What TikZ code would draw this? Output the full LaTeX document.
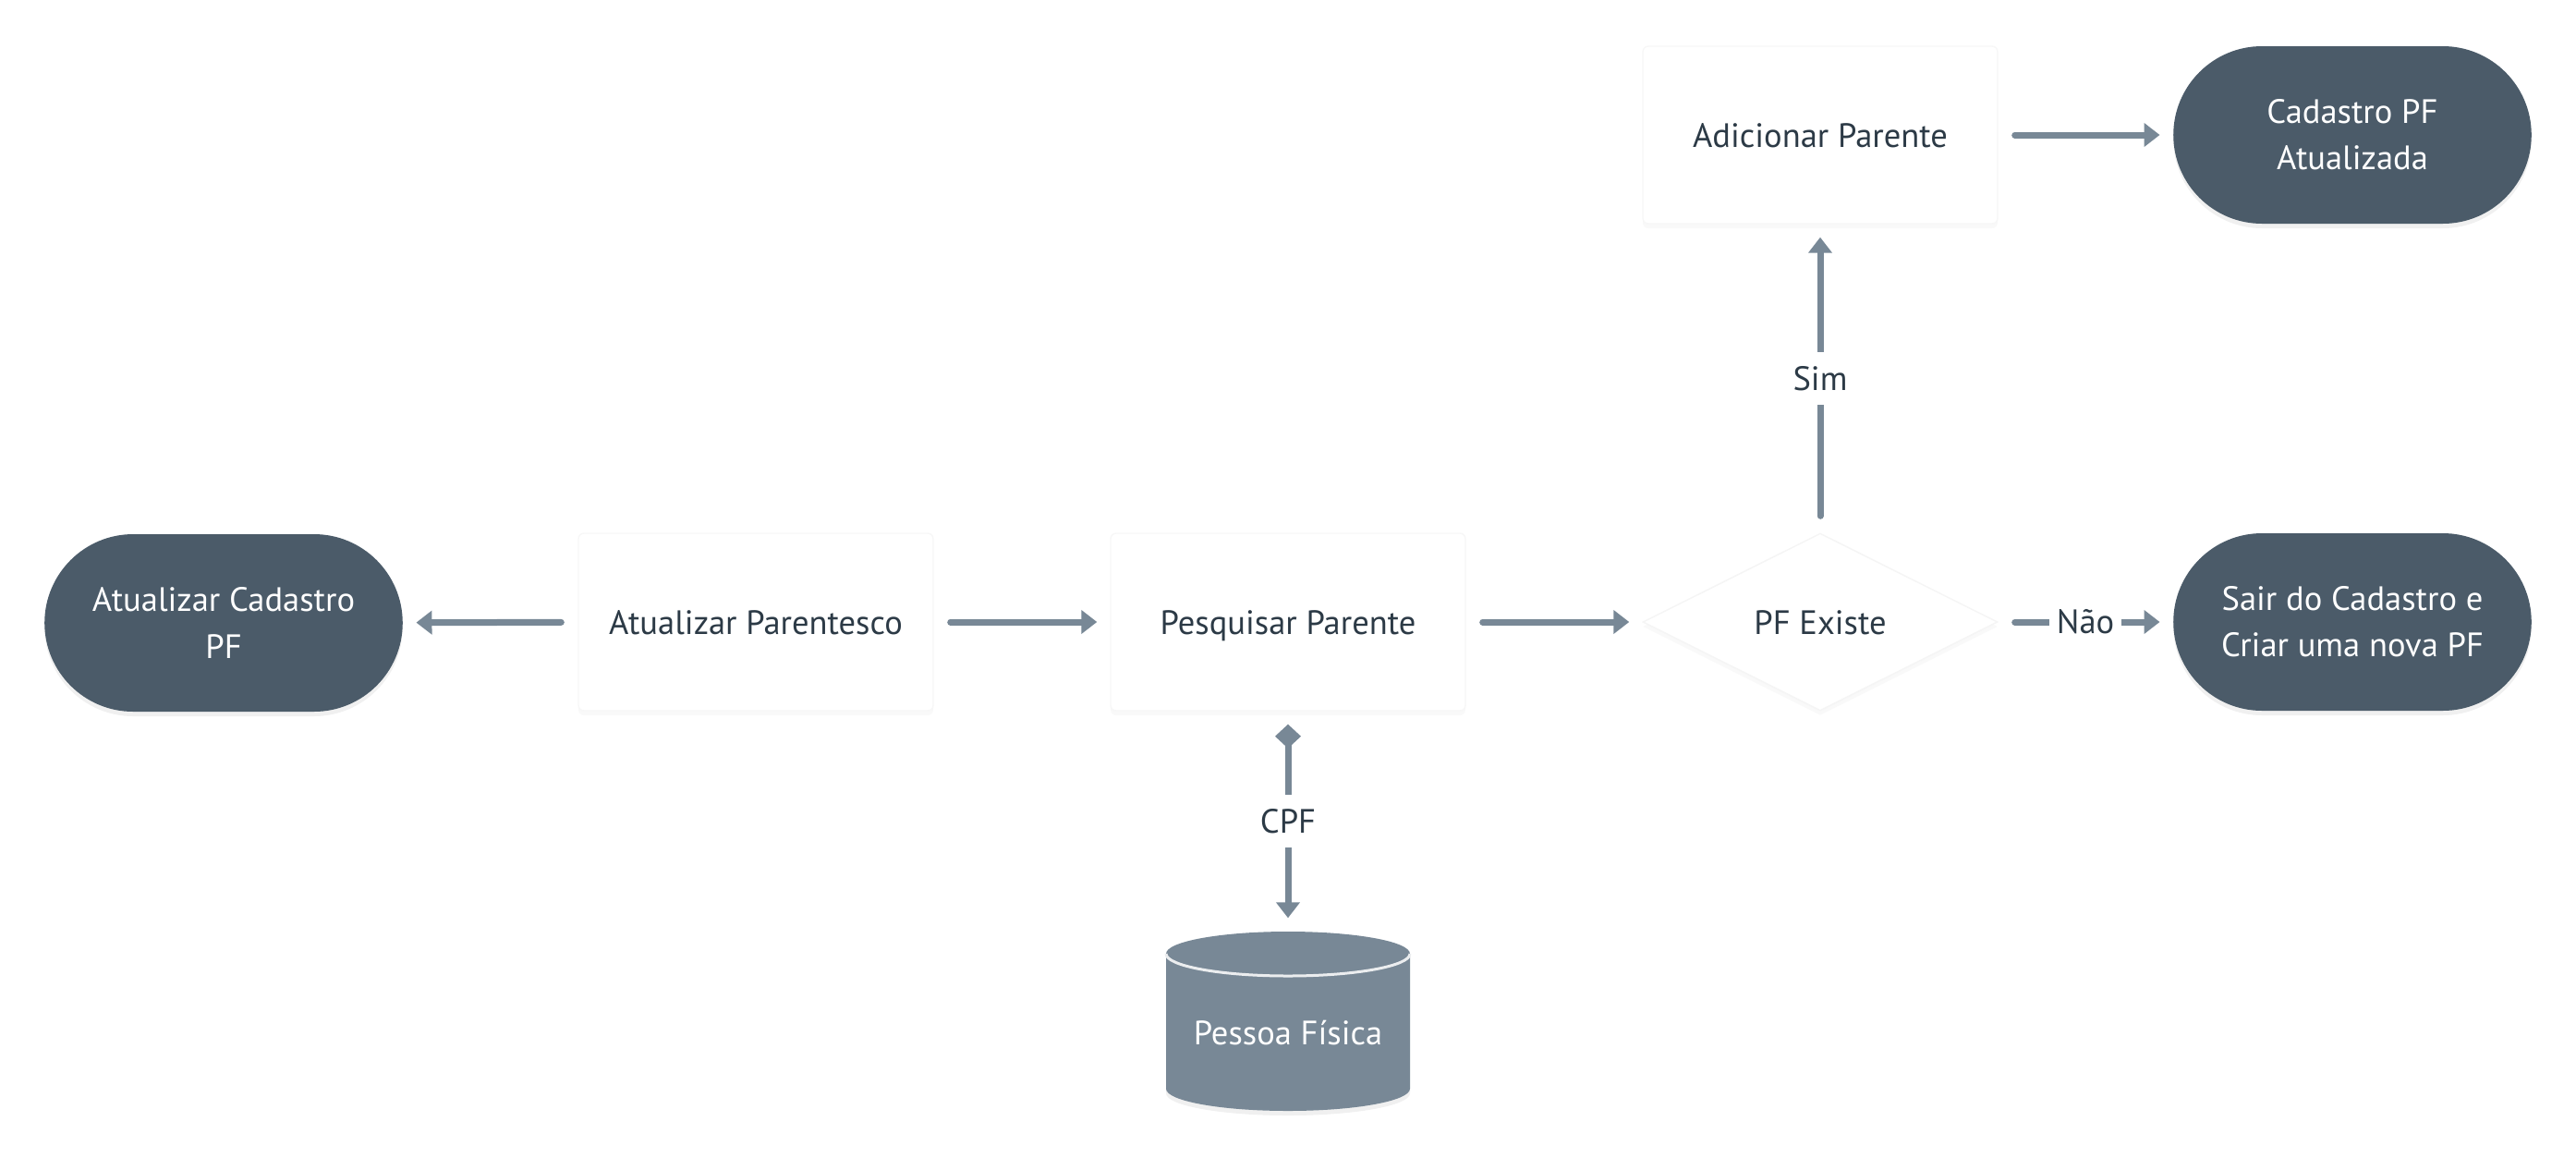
\documentclass[tikz,border=0pt]{standalone}
\usepackage{fontspec}
\setmainfont{PT Sans}
\usepackage{tikz}
\usepackage{xcolor}
\usetikzlibrary{positioning,arrows.meta,calc,shapes.misc,shapes.geometric,shadows}
\definecolor{mydark}{RGB}{75,91,105}
\definecolor{mygray}{RGB}{120,136,150}
\definecolor{mytext}{RGB}{44,58,70}
\tikzset{
    term/.style={
        rounded rectangle,
        fill=mydark,
        draw=none,
        minimum width=4.11cm,
        minimum height=1.92cm,
        text=white,
        align=center,
        font=\fontsize{10.4}{14.3}\selectfont,
        drop shadow={opacity=0.12,shadow xshift=0cm,shadow yshift=-0.05cm}
    },
    proc/.style={
        rectangle,
        rounded corners=0.06cm,
        fill=white,
        draw=black!3,
        minimum width=3.84cm,
        minimum height=1.92cm,
        text height=1.9ex,
        text depth=0.4ex,
        text=mytext,
        font=\fontsize{10.4}{14.5}\selectfont,
        drop shadow={opacity=0.05,shadow xshift=0cm,shadow yshift=-0.05cm}
    },
    dec/.style={
        diamond,
        aspect=2,
        fill=white,
        draw=black!4,
        minimum width=3.84cm,
        minimum height=1.92cm,
        inner sep=0pt,
        text height=1.9ex,
        text depth=0.4ex,
        text=mytext,
        font=\fontsize{10.4}{14.5}\selectfont,
        drop shadow={opacity=0.05,shadow xshift=0cm,shadow yshift=-0.05cm}
    },
    dbtext/.style={
        rectangle,
        minimum width=2.64cm,
        minimum height=1.94cm,
        text=white,
        font=\fontsize{10.4}{14.5}\selectfont
    },
    lbl/.style={fill=white,text=mytext,inner xsep=0.08cm,inner ysep=0.15cm,font=\fontsize{10.4}{14.5}\selectfont},
    arr/.style={-{Triangle[length=0.17cm,width=0.25cm]},line width=0.07cm,mygray,line cap=round,shorten >=0.14cm,shorten <=0.18cm},
    darr/.style={{Diamond[length=0.26cm,width=0.28cm]}-{Triangle[length=0.17cm,width=0.25cm]},line width=0.07cm,mygray,shorten >=0.14cm,shorten <=0.14cm}
}
\begin{document}
\begin{tikzpicture}
\useasboundingbox (0,0) rectangle (27.88,-12.52);

\node[term] (atcad) at (2.42,-6.74) {Atualizar Cadastro\\PF};
\node[proc] (atpar) at (8.18,-6.73) {Atualizar Parentesco};
\node[proc] (pesq) at (13.94,-6.73) {Pesquisar Parente};
\node[dec] (exist) at (19.70,-6.73) {PF Existe};
\node[term] (sair) at (25.46,-6.73) {Sair do Cadastro e\\Criar uma nova PF};

\node[proc] (adic) at (19.70,-1.46) {Adicionar Parente};
\node[term] (cadat) at (25.46,-1.46) {Cadastro PF\\Atualizada};

% banco de dados
\fill[mygray,drop shadow={opacity=0.12,shadow xshift=0cm,shadow yshift=-0.05cm}] (12.62,-10.32) arc[start angle=180,end angle=0,x radius=1.32,y radius=0.24] -- (15.26,-11.78) arc[start angle=0,end angle=-180,x radius=1.32,y radius=0.24] -- cycle;
\draw[white!85!mygray,line width=0.03cm] (12.62,-10.32) arc[start angle=180,end angle=360,x radius=1.32,y radius=0.24];
\node[dbtext] (db) at (13.94,-11.05) {\raisebox{-0.25cm}[0pt][0pt]{Pessoa Física}};

\draw[arr] (atpar) -- (atcad);
\draw[arr] (atpar) -- (pesq);
\draw[arr] (pesq) -- (exist);
\draw[arr] (exist) -- node[lbl] {Não} (sair);
\draw[arr] (exist) -- node[lbl] {Sim} (adic);
\draw[arr] (adic) -- (cadat);
\draw[darr] (pesq) -- node[lbl] {CPF} (db);
\end{tikzpicture}
\end{document}
